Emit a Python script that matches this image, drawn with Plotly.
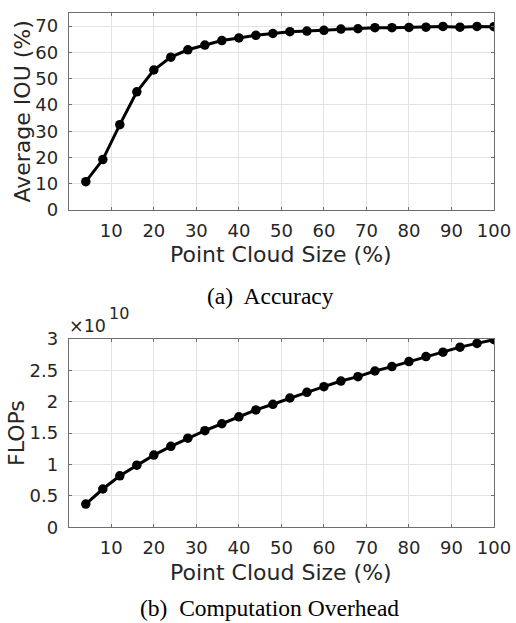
import plotly.graph_objects as go

# ---- data ----
point_cloud_size = [4, 8, 12, 16, 20, 24, 28, 32, 36, 40, 44, 48, 52, 56, 60,
                    64, 68, 72, 76, 80, 84, 88, 92, 96, 100]
average_iou = [10.8, 19.2, 32.5, 45.0, 53.3, 58.2, 61.0, 62.8, 64.5, 65.5, 66.5,
               67.2, 67.9, 68.1, 68.4, 68.9, 69.0, 69.4, 69.4, 69.5, 69.6, 69.9,
               69.6, 69.9, 69.8]
flops_e10 = [0.37, 0.61, 0.82, 0.99, 1.15, 1.29, 1.42, 1.54, 1.65, 1.76, 1.87,
             1.96, 2.06, 2.15, 2.24, 2.33, 2.40, 2.49, 2.56, 2.64, 2.72, 2.79,
             2.87, 2.93, 2.99]
x_ticks = [10, 20, 30, 40, 50, 60, 70, 80, 90, 100]
iou_ticks = [0, 10, 20, 30, 40, 50, 60, 70]
flops_ticks = [0, 0.5, 1, 1.5, 2, 2.5, 3]
flops_ticklabels = ["0", "0.5", "1", "1.5", "2", "2.5", "3"]

W, H = 516, 623
TXT = "#262626"
AXC = "#6e6e6e"
GRID = "#e3e3e3"
SANS = "DejaVu Sans"
SERIF = "Liberation Serif"


def py(px):
    return 1 - px / H


def px_(x):
    return x / W


fig = go.Figure()
fig.add_trace(go.Scatter(x=point_cloud_size, y=average_iou, mode="lines+markers",
                         line=dict(color="black", width=3),
                         marker=dict(color="black", size=9.5),
                         xaxis="x", yaxis="y", showlegend=False))
fig.add_trace(go.Scatter(x=point_cloud_size, y=flops_e10, mode="lines+markers",
                         line=dict(color="black", width=3),
                         marker=dict(color="black", size=9.5),
                         xaxis="x2", yaxis="y2", showlegend=False))

xdom = [px_(68.8), px_(494)]
axis_common = dict(showline=True, linecolor=AXC, linewidth=1, mirror="ticks",
                   showgrid=True, gridcolor=GRID, gridwidth=1, zeroline=False,
                   automargin=False,
                   ticks="inside", ticklen=3, tickcolor=AXC, tickwidth=1,
                   tickfont=dict(family=SANS, size=18, color=TXT))

fig.update_layout(
    width=W, height=H,
    margin=dict(l=0, r=0, t=0, b=0, autoexpand=False),
    paper_bgcolor="white", plot_bgcolor="white",
    xaxis=dict(domain=xdom, range=[0, 100], tickvals=x_ticks, anchor="y",
               ticklabelstandoff=4, **axis_common),
    yaxis=dict(domain=[py(210), py(13)], range=[0, 75], tickvals=iou_ticks,
               anchor="x", ticklabelstandoff=6, **axis_common),
    xaxis2=dict(domain=xdom, range=[0, 100], tickvals=x_ticks, anchor="y2",
                ticklabelstandoff=4, **axis_common),
    yaxis2=dict(domain=[py(527.3), py(339)], range=[0, 3], tickvals=flops_ticks,
                ticktext=flops_ticklabels, anchor="x2", ticklabelstandoff=6,
                **axis_common),
)

ann = []
title_font = dict(family=SANS, size=22, color=TXT)
cap_font = dict(family=SERIF, size=23.5, color="black")
xc = (xdom[0] + xdom[1]) / 2
ann.append(dict(text="Average IOU (%)", x=px_(22), y=py(111.5), textangle=-90,
                font=title_font))
ann.append(dict(text="Point Cloud Size (%)", x=xc, y=py(254), font=title_font))
ann.append(dict(text="(a)  Accuracy", x=px_(270), y=py(296), font=cap_font))
ann.append(dict(text="FLOPs", x=px_(16), y=py(433), textangle=-90, font=title_font))
ann.append(dict(text="Point Cloud Size (%)", x=xc, y=py(572), font=title_font))
ann.append(dict(text="(b)  Computation Overhead", x=px_(269), y=py(608), font=cap_font))
ann.append(dict(text="×10", x=px_(107), y=py(337), xanchor="right",
                yanchor="bottom", borderpad=0, font=dict(family=SANS, size=17.5, color=TXT)))
ann.append(dict(text="10", x=px_(107.5), y=py(324), xanchor="left",
                yanchor="bottom", borderpad=0, font=dict(family=SANS, size=16, color=TXT)))
for a in ann:
    a.setdefault("xanchor", "center")
    a.setdefault("yanchor", "middle")
    a.update(xref="paper", yref="paper", showarrow=False)
fig.update_layout(annotations=ann)

fig.write_html("out.html", config={"displayModeBar": False},
               post_script="document.body.style.margin='0px';"
                           "document.body.style.overflow='hidden';")
